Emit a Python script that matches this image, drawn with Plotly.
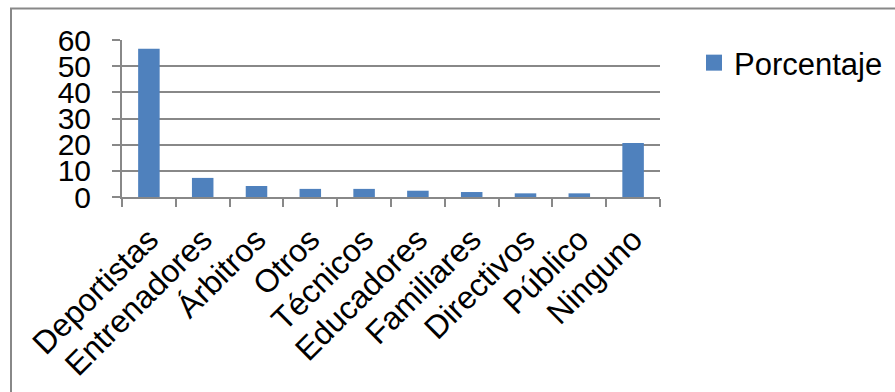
import plotly.graph_objects as go

categories = ["Deportistas", "Entrenadores", "Árbitros", "Otros", "Técnicos",
              "Educadores", "Familiares", "Directivos", "Público", "Ninguno"]
porcentaje = [56.7, 7.3, 4.2, 3.1, 3.1, 2.4, 1.9, 1.4, 1.4, 20.6]
y_ticks = [0, 10, 20, 30, 40, 50, 60]
series_name = "Porcentaje"

W, H = 895, 392
ML, MR, MT, MB = 122, 235, 40, 195
pw = W - ML - MR
ph = H - MT - MB

def px_to_paper_x(px):
    return (px - ML) / pw

def px_to_paper_y(py):
    return (H - MB - py) / ph

FONT = "Arial, 'Liberation Sans', sans-serif"
GRID = "#888888"
BAR = "#4F81BD"

fig = go.Figure()
fig.add_trace(go.Bar(
    x=categories, y=porcentaje, name=series_name,
    marker=dict(color=BAR, line=dict(width=0)),
    showlegend=False,
))
# legend entry with a larger square key, as in the reference
fig.add_trace(go.Scatter(
    x=[categories[0]], y=[None], name=series_name, mode="markers",
    marker=dict(symbol="square", size=16, color=BAR),
    showlegend=True, hoverinfo="skip",
))

fig.update_layout(
    width=W, height=H,
    margin=dict(l=ML, r=MR, t=MT, b=MB, autoexpand=False),
    paper_bgcolor="white", plot_bgcolor="white",
    bargap=0.6,
    showlegend=True,
    legend=dict(x=px_to_paper_x(694), y=px_to_paper_y(63), xanchor="left", yanchor="middle",
                font=dict(family=FONT, size=31, color="black"),
                bgcolor="rgba(0,0,0,0)", itemwidth=30, itemsizing="trace"),
    font=dict(family=FONT, color="black"),
    xaxis=dict(
        type="category",
        tickangle=-45,
        tickfont=dict(family=FONT, size=32, color="black"),
        showline=True, linecolor=GRID, linewidth=2,
        ticks="outside", ticklen=8, tickcolor=GRID, tickwidth=2,
        tickson="boundaries",
        showgrid=False,
        range=[-0.5, 9.5],
        automargin=False,
        ticklabelstandoff=9,
    ),
    yaxis=dict(
        range=[0, 60],
        tickvals=y_ticks,
        tickfont=dict(family=FONT, size=30, color="black"),
        showline=True, linecolor=GRID, linewidth=2,
        ticks="outside", ticklen=8, tickcolor=GRID, tickwidth=2,
        showgrid=True, gridcolor=GRID, gridwidth=1.5,
        zeroline=False,
        ticklabelstandoff=15,
        automargin=False,
    ),
)

# chart border (extends past right and bottom edges of the picture)
fig.add_shape(type="rect", xref="paper", yref="paper",
              x0=px_to_paper_x(11), x1=px_to_paper_x(905),
              y0=px_to_paper_y(405), y1=px_to_paper_y(8.5),
              line=dict(color="#888888", width=2), layer="below")

fig.write_html("out.html")
